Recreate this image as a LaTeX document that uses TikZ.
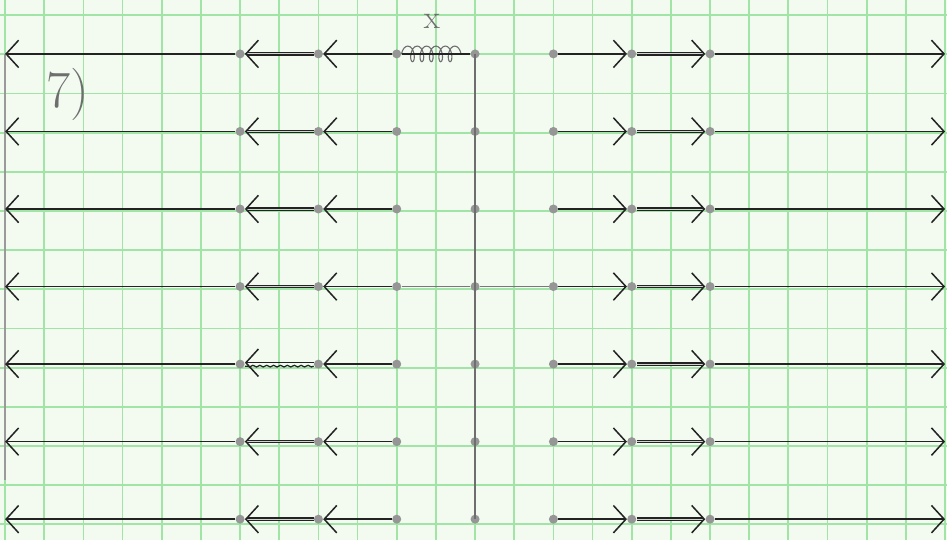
\documentclass[tikz,border=0pt]{standalone}
\usetikzlibrary{arrows.meta,decorations.pathmorphing}
\definecolor{paper}{RGB}{243,251,241}
\definecolor{gridgreen}{RGB}{160,228,166}
\definecolor{pencil}{RGB}{35,35,35}
\definecolor{dotgray}{RGB}{150,150,150}
\definecolor{lead}{RGB}{110,110,110}

\begin{document}
\begin{tikzpicture}[x=1cm, y=-0.99cm,
    gridline/.style={gridgreen, line width=1.3pt},
    pt/.style={circle, fill=dotgray, inner sep=0pt, minimum size=2.3mm},
    bar/.style={-{Straight Barb[length=3.2mm, width=7mm, line width=1.1pt]}, pencil, line width=1.05pt},
    dbl/.style={bar, double=paper!70!gray, double distance=0.7pt, line width=1pt},
    axis/.style={lead, line width=1pt},
    hand/.style={lead, font=\fontsize{38}{38}\selectfont}
]
    % paper and grid
    \fill[paper] (-0.13,-0.39) rectangle (24.05,13.53);
    \useasboundingbox (-0.13,-0.39) rectangle (24.05,13.53);
    \draw[gridline] (-0.13,-0.39) grid (24.05,13.53);

    % points of each row
    \foreach \r/\y in {1/1,2/3,3/5,4/7,5/9,6/11,7/13} {
        \coordinate (l\r) at (0,\y);
        \node[pt] (a\r) at (6,\y) {};
        \node[pt] (b\r) at (8,\y) {};
        \node[pt] (c\r) at (10,\y) {};
        \node[pt] (m\r) at (12,\y) {};
        \node[pt] (d\r) at (14,\y) {};
        \node[pt] (e\r) at (16,\y) {};
        \node[pt] (f\r) at (18,\y) {};
        \coordinate (g\r) at (24,\y);
    }
    \coordinate (lend) at (0,12);

    % walls
    \draw[axis] (m1.center) -- (m7.center);
    \draw[axis, lead!70] (l1) -- (lend);

    % spring and label
    \draw[lead, line width=0.8pt, decorate, decoration={coil, amplitude=2mm, segment length=2.4mm}] (c1) -- (m1);
    \draw[pencil, line width=1pt] (c1) -- (m1);
    \node[hand, font=\fontsize{24}{24}\selectfont] (xlab) at (10.9,0.15) {x};
    \node[hand] (num) at (1.6,2.05) {7)};

    % middle link
    \draw[axis, dotgray!80!black] (c4) -- (m4);
    \draw[axis, dotgray!80!black] (m4) -- (d4);

    % arrows
    \foreach \r in {1,...,7} {
        \draw[bar] (a\r) -- (l\r);
        \draw[bar] (c\r) -- (b\r);
        \draw[bar] (d\r) -- (e\r);
        \draw[dbl] (e\r) -- (f\r);
        \draw[bar] (f\r) -- (g\r);
    }
    \foreach \r in {1,2,3,4,6,7}
        \draw[dbl] (b\r) -- (a\r);
    \draw[bar] ([yshift=1pt]b5.west) -- ([yshift=1pt]a5.east);
    \draw[pencil, line width=0.9pt, decorate, decoration={snake, amplitude=0.6pt, segment length=5pt}]
        ([yshift=-1.5pt]b5.west) -- ([yshift=-1.5pt]a5.east);
\end{tikzpicture}
\end{document}
